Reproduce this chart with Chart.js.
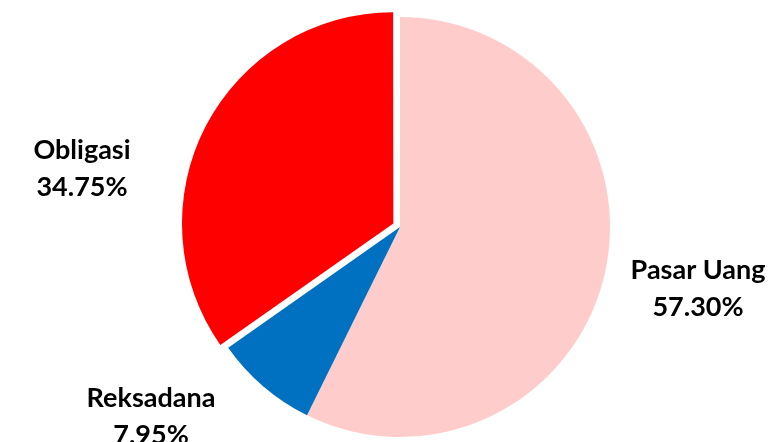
<!DOCTYPE html>
<html>
<head>
<meta charset="utf-8">
<script src="https://cdn.jsdelivr.net/npm/chart.js@4"></script>
<style>
html,body{margin:0;padding:0;background:#fff;}
#wrap{width:770px;height:442px;}
</style>
</head>
<body>
<div id="wrap"><canvas id="c" width="770" height="442"></canvas></div>
<script>
const categories = ["Pasar Uang", "Reksadana", "Obligasi"];
const values = [57.30, 7.95, 34.75];
const valueLabels = ["57.30%", "7.95%", "34.75%"];

const colors = ["#FFCCCC", "#0070C0", "#FF0000"];
// Chart.js v4 arcs translate by offset/4
const offsets = [0, 0, 30];
// label anchor (center of text block, first baseline) relative to pie center
const labelPos = [
  {dx: 298, dy: 52},
  {dx: -249, dy: 180},
  {dx: -318, dy: -68}
];

const labelPlugin = {
  id: 'outLabels',
  afterDatasetsDraw(chart) {
    const ctx = chart.ctx;
    const meta = chart.getDatasetMeta(0);
    const arc0 = meta.data[0];
    const cx = arc0.x, cy = arc0.y;
    ctx.save();
    ctx.fillStyle = '#000';
    ctx.font = 'bold 27px Lato';
    ctx.textAlign = 'center';
    ctx.textBaseline = 'alphabetic';
    categories.forEach((cat, i) => {
      const p = labelPos[i];
      ctx.fillText(cat, cx + p.dx, cy + p.dy);
      ctx.fillText(valueLabels[i], cx + p.dx, cy + p.dy + 37);
    });
    ctx.restore();
  }
};

new Chart(document.getElementById('c'), {
  type: 'pie',
  data: {
    labels: categories,
    datasets: [{
      data: values,
      backgroundColor: colors,
      borderWidth: 0,
      offset: offsets,
      hoverOffset: 0
    }]
  },
  options: {
    responsive: false,
    animation: false,
    radius: 210,
    layout: {padding: {left: 30, right: 0, top: 12, bottom: 0}},
    plugins: {
      legend: {display: false},
      tooltip: {enabled: false}
    },
    events: []
  },
  plugins: [labelPlugin]
});
</script>
</body>
</html>
